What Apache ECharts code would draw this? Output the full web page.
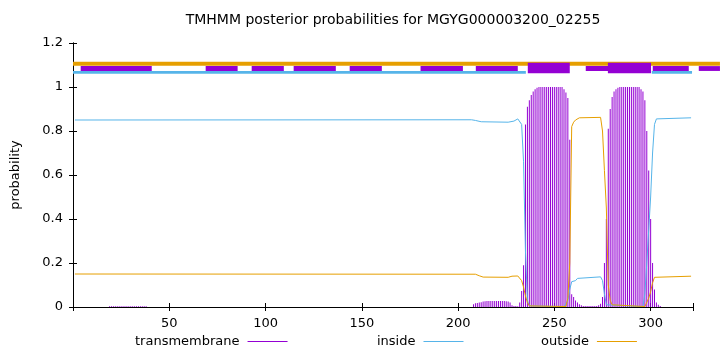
<!DOCTYPE html>
<html><head><meta charset="utf-8">
<script src="https://cdn.jsdelivr.net/npm/echarts@6/dist/echarts.min.js"></script>
<style>html,body{margin:0;padding:0;background:#fff}#c{width:720px;height:352px}</style>
</head><body><div id="c"></div>
<script>
const FONT = '"DejaVu Sans", sans-serif';
const titleText = 'TMHMM posterior probabilities for MGYG000003200_02255';
const xTickLabels = [50, 100, 150, 200, 250, 300];

// transmembrane posterior (impulses), [residue, probability]
const tmProb = [
  [19,0.003],[20,0.003],[21,0.003],[22,0.003],[23,0.003],[24,0.003],[25,0.003],[26,0.003],[27,0.003],[28,0.003],
  [29,0.003],[30,0.003],[31,0.003],[32,0.003],[33,0.003],[34,0.003],[35,0.003],[36,0.003],[37,0.003],[38,0.003],
  [208,0.012],[209,0.017],[210,0.018],[211,0.02],[212,0.022],[213,0.025],[214,0.026],[215,0.027],[216,0.027],
  [217,0.027],[218,0.027],[219,0.027],[220,0.027],[221,0.027],[222,0.027],[223,0.027],[224,0.027],[225,0.026],
  [226,0.025],[227,0.02],[228,0.008],[229,0.005],[230,0.004],[231,0.003],[232,0.02],[233,0.073],[234,0.19],
  [235,0.83],[236,0.91],[237,0.94],[238,0.964],[239,0.979],[240,0.99],[241,0.997],[242,1],[243,1],[244,1],
  [245,1],[246,1],[247,1],[248,1],[249,1],[250,1],[251,1],[252,1],[253,1],[254,1],[255,0.99],[256,0.975],
  [257,0.95],[258,0.76],[259,0.058],[260,0.045],[261,0.03],[262,0.02],[263,0.012],[264,0.008],[265,0.005],
  [266,0.004],[267,0.004],[268,0.004],[269,0.004],[270,0.004],[271,0.004],[272,0.005],[273,0.008],[274,0.015],
  [275,0.045],[276,0.2],[277,0.4],[278,0.81],[279,0.9],[280,0.955],[281,0.98],[282,0.99],[283,0.997],
  [284,1],[285,1],[286,1],[287,1],[288,1],[289,1],[290,1],[291,1],[292,1],[293,1],[294,1],[295,0.99],
  [296,0.98],[297,0.94],[298,0.8],[299,0.62],[300,0.4],[301,0.2],[302,0.08],[303,0.02],[304,0.01],[305,0.005]
];

// inside posterior, [residue, probability]
const insideProb = [
  [1,0.85],[207,0.851],[209,0.848],[212,0.842],[226,0.84],[229,0.845],[231,0.855],[232,0.86],[233,0.83],
  [234,0.66],[235,0.25],[236,0.03],[237,0.005],[255,0.002],[256,0.01],[257,0.03],[258,0.08],[259,0.115],
  [261,0.12],[262,0.13],[263,0.137],[274,0.137],[275,0.12],[276,0.06],[277,0.01],[278,0.002],[296,0.002],
  [297,0.06],[298,0.2],[299,0.35],[300,0.5],[301,0.7],[302,0.83],[303,0.855],[304,0.86],[321,0.86]
];

// outside posterior, [residue, probability]
const outsideProb = [
  [1,0.15],[209,0.149],[211,0.142],[213,0.136],[226,0.135],[228,0.14],[231,0.141],[232,0.135],[233,0.12],
  [234,0.09],[235,0.05],[236,0.02],[237,0.005],[238,0.002],[256,0.002],[257,0.04],[258,0.2],[259,0.82],
  [260,0.84],[261,0.85],[263,0.86],[274,0.862],[275,0.8],[276,0.62],[277,0.45],[278,0.1],[279,0.03],
  [280,0.01],[281,0.002],[297,0.002],[298,0.01],[299,0.04],[300,0.07],[301,0.11],[302,0.135],[303,0.14],[321,0.14]
];

// topology strips along the top, [start, end] residues
const outsideSpans = [[0, 336]];
const insideSpans = [[0, 235.2], [300.6, 321.5]];
const tmSpansSmall = [[4,40.9],[68.9,85.5],[92.8,109.5],[114.6,136.5],[143.7,160.4],[180.5,202.5],[209.2,231],[266.3,300],[301.1,319.8],[325,336]];
const tmSpansTall = [[236.2,258],[277.8,300.2]];

const PURPLE = '#9400d3', BLUE = '#56b4e9', ORANGE = '#e69f00';

function spanSeries(name, spans, yLo, yHi, color) {
  return {
    type: 'custom', name: name, data: spans, clip: false, silent: true,
    encode: { x: [0, 1] },
    renderItem: function (params, api) {
      const p0 = api.coord([api.value(0), yHi]);
      const p1 = api.coord([api.value(1), yLo]);
      return { type: 'rect', shape: { x: p0[0], y: p0[1], width: p1[0] - p0[0], height: p1[1] - p0[1] }, style: { fill: color } };
    }
  };
}

const chart = echarts.init(document.getElementById('c'), null, { renderer: 'canvas' });
const axisCommon = {
  axisLine: { show: true, lineStyle: { color: '#000', width: 1 } },
  axisTick: { show: true, inside: true, length: 4, lineStyle: { color: '#000' } },
  splitLine: { show: false }
};
function legendItem(name, color, left) {
  return {
    data: [{ name: name, itemStyle: { color: color } }], left: left, top: 335, align: 'right', icon: 'rect',
    itemWidth: 40, itemHeight: 1, padding: 0, selectedMode: false,
    textStyle: { fontFamily: FONT, fontSize: 13, color: '#000', padding: [0, 3, 0, 0] }
  };
}
chart.setOption({
  animation: false,
  backgroundColor: '#fff',
  grid: { left: 73, right: 27, top: 43, bottom: 45, containLabel: false, outerBoundsMode: 'none' },
  graphic: [
    { type: 'text', x: 393, y: 20, style: { text: titleText, font: '14px ' + FONT, fill: '#000', textAlign: 'center', textVerticalAlign: 'middle' } },
    { type: 'text', x: 16, y: 175, rotation: Math.PI / 2, style: { text: 'probability', font: '13px ' + FONT, fill: '#000', textAlign: 'center', textVerticalAlign: 'middle' } }
  ],
  legend: [legendItem('transmembrane', PURPLE, 135), legendItem('inside', BLUE, 377), legendItem('outside', ORANGE, 541)],
  xAxis: [
    Object.assign({
      type: 'value', min: 0, max: 322, interval: 50, position: 'bottom',
      axisLabel: { show: true, margin: 10, color: '#000', fontFamily: FONT, fontSize: 13,
        formatter: function (v) { return xTickLabels.indexOf(v) >= 0 ? String(v) : ''; } }
    }, axisCommon),
    Object.assign({
      type: 'value', min: 0, max: 322, interval: 50, position: 'top', axisLabel: { show: false }
    }, axisCommon)
  ],
  yAxis: [
    Object.assign({
      type: 'value', min: 0, max: 1.2, interval: 0.2, position: 'left',
      axisLabel: { show: true, margin: 10, color: '#000', fontFamily: FONT, fontSize: 13 }
    }, axisCommon),
    Object.assign({
      type: 'value', min: 0, max: 1.2, interval: 0.2, position: 'right', axisLabel: { show: false }
    }, axisCommon)
  ],
  series: [
    { type: 'bar', name: 'transmembrane', data: tmProb, barWidth: 1, itemStyle: { color: PURPLE }, color: PURPLE, silent: true },
    { type: 'line', name: 'inside', data: insideProb, showSymbol: false, symbol: 'none', color: BLUE, lineStyle: { color: BLUE, width: 1 }, silent: true },
    { type: 'line', name: 'outside', data: outsideProb, showSymbol: false, symbol: 'none', color: ORANGE, lineStyle: { color: ORANGE, width: 1 }, silent: true },
    spanSeries('outsideStrip', outsideSpans, 1.097, 1.115, ORANGE),
    spanSeries('insideStrip', insideSpans, 1.060, 1.073, BLUE),
    spanSeries('tmStripSmall', tmSpansSmall, 1.073, 1.095, PURPLE),
    spanSeries('tmStripTall', tmSpansTall, 1.062, 1.110, PURPLE)
  ]
});
</script>
</body></html>
